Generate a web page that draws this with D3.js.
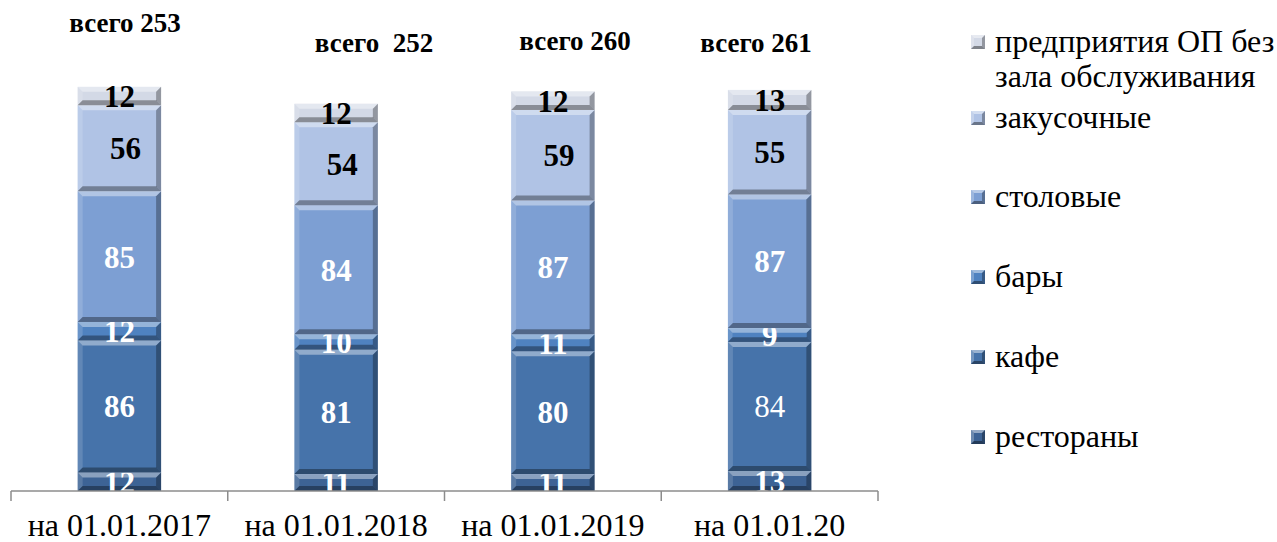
<!DOCTYPE html>
<html>
<head>
<meta charset="utf-8">
<script src="https://cdn.jsdelivr.net/npm/d3@7"></script>
<style>
  body { margin: 0; background: #fff; }
</style>
</head>
<body>
<div id="chart"></div>
<script>
// chart data
const categories = ['на 01.01.2017', 'на 01.01.2018', 'на 01.01.2019', 'на 01.01.20'];
const seriesNames = ['рестораны', 'кафе', 'бары', 'столовые', 'закусочные', 'предприятия ОП без зала обслуживания'];
const restaurants = [12, 11, 11, 13];
const cafes = [86, 81, 80, 84];
const bars = [12, 10, 11, 9];
const canteens = [85, 84, 87, 87];
const snackBars = [56, 54, 59, 55];
const noHall = [12, 12, 12, 13];
const totals = ['всего 253', 'всего  252', 'всего 260', 'всего 261'];

const colors = ['#3d6395', '#4673aa', '#4f82c0', '#7d9fd3', '#b0c3e5', '#d3d9e6'];
const labelColors = ['#fff', '#fff', '#fff', '#fff', '#000', '#000'];

const seriesValues = [restaurants, cafes, bars, canteens, snackBars, noHall];

const width = 1277, height = 542;
const svg = d3.select('#chart').append('svg')
    .attr('width', width)
    .attr('height', height)
    .style('font-family', 'Liberation Serif');

const x = d3.scaleBand()
    .domain(categories)
    .range([11, 878])
    .paddingInner(0.615)
    .paddingOuter(0.3075);

const y = d3.scaleLinear()
    .domain([0, 300])
    .range([491, 30]);

// stack the series
const rows = categories.map((c, i) => {
    const r = { cat: c };
    seriesNames.forEach((s, k) => { r[s] = seriesValues[k][i]; });
    return r;
});
const stacked = d3.stack().keys(seriesNames)(rows);

const bev = 5;
const g = svg.append('g');

stacked.forEach((layer, k) => {
    layer.forEach((d, i) => {
        const x0 = x(categories[i]);
        const w = x.bandwidth();
        const yTop = y(d[1]);
        const yBot = y(d[0]);
        const h = yBot - yTop;
        const cell = g.append('g');
        cell.append('rect')
            .attr('x', x0).attr('y', yTop)
            .attr('width', w).attr('height', h)
            .attr('fill', colors[k]);
        const b = Math.min(bev, h / 3);
        // bevel edges
        cell.append('polygon')
            .attr('points', [[x0, yTop], [x0 + w, yTop], [x0 + w - b, yTop + b], [x0 + b, yTop + b]].join(' '))
            .attr('fill', '#fff').attr('opacity', 0.4);
        cell.append('polygon')
            .attr('points', [[x0, yTop], [x0 + b, yTop + b], [x0 + b, yBot - b], [x0, yBot]].join(' '))
            .attr('fill', '#fff').attr('opacity', 0.15);
        cell.append('polygon')
            .attr('points', [[x0 + w, yTop], [x0 + w - b, yTop + b], [x0 + w - b, yBot - b], [x0 + w, yBot]].join(' '))
            .attr('fill', '#000').attr('opacity', 0.3);
        cell.append('polygon')
            .attr('points', [[x0, yBot], [x0 + b, yBot - b], [x0 + w - b, yBot - b], [x0 + w, yBot]].join(' '))
            .attr('fill', '#000').attr('opacity', 0.35);
        // value label
        const v = seriesValues[k][i];
        const plain = (k === 1 && i === 3);
        cell.append('text')
            .attr('x', x0 + w / 2 + (k === 4 && i < 3 ? 6 : 0))
            .attr('y', (yTop + yBot) / 2)
            .attr('dy', '0.35em')
            .attr('text-anchor', 'middle')
            .attr('fill', labelColors[k])
            .attr('font-size', '31px')
            .attr('font-weight', plain ? 'normal' : 'bold')
            .text(v);
    });
});

// totals above bars
const totalY = [32, 52, 50, 52];
const totalX = [125, 374, 575, 756];
totals.forEach((t, i) => {
    svg.append('text')
        .attr('x', totalX[i])
        .attr('y', totalY[i])
        .attr('text-anchor', 'middle')
        .attr('font-size', '27px')
        .attr('font-weight', 'bold')
        .attr('xml:space', 'preserve')
        .style('white-space', 'pre')
        .text(t);
});

// category axis
const axisY = y(0);
svg.append('line')
    .attr('x1', 11).attr('x2', 878)
    .attr('y1', axisY).attr('y2', axisY)
    .attr('stroke', '#8c8c8c').attr('stroke-width', 1.5);
const step = x.step();
d3.range(categories.length + 1).forEach(i => {
    const tx = 11 + step * i;
    svg.append('line')
        .attr('x1', tx).attr('x2', tx)
        .attr('y1', axisY).attr('y2', axisY + 10)
        .attr('stroke', '#8c8c8c').attr('stroke-width', 1.5);
});
categories.forEach(c => {
    svg.append('text')
        .attr('x', x(c) + x.bandwidth() / 2)
        .attr('y', 536)
        .attr('text-anchor', 'middle')
        .attr('font-size', '32px')
        .text(c);
});

// legend
const legendItems = [
    { k: 5, lines: ['предприятия ОП без', 'зала обслуживания'], y: 42 },
    { k: 4, lines: ['закусочные'], y: 118 },
    { k: 3, lines: ['столовые'], y: 197 },
    { k: 2, lines: ['бары'], y: 277 },
    { k: 1, lines: ['кафе'], y: 357 },
    { k: 0, lines: ['рестораны'], y: 437 }
];
const lg = svg.append('g');
legendItems.forEach(item => {
    const mx = 971, my = item.y - 7, ms = 14;
    lg.append('rect').attr('x', mx).attr('y', my).attr('width', ms).attr('height', ms).attr('fill', colors[item.k]);
    lg.append('polygon').attr('points', [[mx, my], [mx + ms, my], [mx + ms - 3, my + 3], [mx + 3, my + 3]].join(' ')).attr('fill', '#fff').attr('opacity', 0.45);
    lg.append('polygon').attr('points', [[mx, my], [mx + 3, my + 3], [mx + 3, my + ms - 3], [mx, my + ms]].join(' ')).attr('fill', '#fff').attr('opacity', 0.25);
    lg.append('polygon').attr('points', [[mx + ms, my], [mx + ms - 3, my + 3], [mx + ms - 3, my + ms - 3], [mx + ms, my + ms]].join(' ')).attr('fill', '#000').attr('opacity', 0.3);
    lg.append('polygon').attr('points', [[mx, my + ms], [mx + 3, my + ms - 3], [mx + ms - 3, my + ms - 3], [mx + ms, my + ms]].join(' ')).attr('fill', '#000').attr('opacity', 0.4);
    item.lines.forEach((ln, j) => {
        lg.append('text')
            .attr('x', 995)
            .attr('y', item.y + 10 + j * 35)
            .attr('font-size', '32px')
            .text(ln);
    });
});
</script>
</body>
</html>
